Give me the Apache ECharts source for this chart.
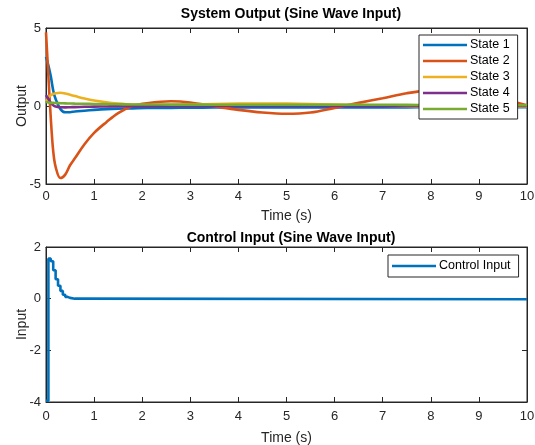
<!DOCTYPE html>
<html>
<head>
<meta charset="utf-8">
<script src="https://cdn.jsdelivr.net/npm/echarts@6/dist/echarts.min.js"></script>
<style>
  html, body { margin: 0; padding: 0; background: #fff; }
  #main { width: 535px; height: 445px; }
</style>
</head>
<body>
<div id="main"></div>
<script>
// time samples for the state outputs (s)
var tOut = [0, 0.05, 0.1, 0.15, 0.2, 0.3, 0.4, 0.5, 0.6, 0.8, 1.0, 1.25, 1.5, 1.8, 2.1, 2.6, 3.0, 3.5,
            4.0, 4.5, 5.0, 5.5, 6.0, 6.5, 7.0, 7.5, 8.0, 8.5, 9.0, 9.5, 10];
var state1 = [3.15, 2.6, 1.9, 1.0, 0.45, -0.2, -0.4, -0.4, -0.35, -0.3, -0.25, -0.2, -0.17, -0.15, -0.13, -0.12, -0.11, -0.1,
              -0.1, -0.1, -0.1, -0.1, -0.1, -0.1, -0.1, -0.09, -0.08, -0.08, -0.08, -0.08, -0.08];
var state2 = [4.72, 1.9, -0.8, -2.9, -3.9, -4.62, -4.4, -3.8, -3.35, -2.45, -1.72, -1.05, -0.45, 0.0, 0.18, 0.3, 0.22, -0.02,
              -0.25, -0.42, -0.5, -0.42, -0.12, 0.2, 0.5, 0.82, 1.02, 1.05, 0.85, 0.45, 0.05];
var state3 = [0.3, 0.55, 0.7, 0.77, 0.82, 0.85, 0.8, 0.72, 0.64, 0.48, 0.35, 0.24, 0.16, 0.09, 0.06, 0.06, 0.1, 0.13,
              0.15, 0.16, 0.15, 0.13, 0.1, 0.06, 0.02, -0.02, -0.05, -0.07, -0.07, -0.05, -0.03];
var state4 = [0.7, 0.45, 0.2, 0.05, -0.03, -0.08, -0.09, -0.08, -0.07, -0.05, -0.04, -0.03, -0.02, -0.02, -0.01, 0.0, 0.0, 0.01,
              0.02, 0.02, 0.02, 0.02, 0.01, 0.01, 0.0, 0.0, 0.0, 0.0, 0.0, 0.0, 0.0];
var state5 = [0.25, 0.22, 0.2, 0.2, 0.19, 0.18, 0.17, 0.16, 0.15, 0.14, 0.13, 0.12, 0.11, 0.1, 0.1, 0.09, 0.09, 0.08,
              0.08, 0.08, 0.08, 0.08, 0.08, 0.08, 0.08, 0.07, 0.06, 0.06, 0.05, 0.05, 0.05];
var stateNames = ['State 1', 'State 2', 'State 3', 'State 4', 'State 5'];

// control input, zero-order hold samples
var tCtrl = [0, 0.05, 0.1, 0.15, 0.2, 0.25, 0.3, 0.35, 0.4, 0.45, 0.5, 0.6, 10];
var uCtrl = [-3.95, 1.55, 1.45, 1.1, 0.75, 0.5, 0.3, 0.15, 0.07, 0.03, 0.0, -0.02, -0.02];

var xTicks = [0, 1, 2, 3, 4, 5, 6, 7, 8, 9, 10];

var colors = ['#0072BD', '#D95319', '#EDB120', '#7E2F8E', '#77AC30'];
var ink = '#262626';
var font = 'Liberation Sans, Arial, Helvetica, sans-serif';

function pairs(t, v) {
  return t.map(function (x, i) { return [x, v[i]]; });
}

function xAx(grid, pos, nameGap, margin) {
  return {
    type: 'value', gridIndex: grid, position: pos,
    min: xTicks[0], max: xTicks[xTicks.length - 1], interval: 1,
    name: pos === 'bottom' ? 'Time (s)' : '', nameLocation: 'middle', nameGap: nameGap, nameMoveOverlap: false,
    nameTextStyle: { color: ink, fontSize: 14, fontFamily: font },
    axisLine: { show: true, onZero: false, lineStyle: { color: ink, width: 1 } },
    axisTick: { show: true, inside: true, length: 5, lineStyle: { color: ink } },
    axisLabel: { show: pos === 'bottom', color: ink, fontSize: 13, fontFamily: font, margin: margin },
    splitLine: { show: false }
  };
}

function yAx(grid, pos, min, max, step, name) {
  return {
    type: 'value', gridIndex: grid, position: pos,
    min: min, max: max, interval: step,
    name: name, nameLocation: 'middle', nameGap: 17, nameRotate: 90, nameMoveOverlap: false,
    nameTextStyle: { color: ink, fontSize: 14, fontFamily: font },
    axisLine: { show: true, onZero: false, lineStyle: { color: ink, width: 1 } },
    axisTick: { show: true, inside: true, length: 5, lineStyle: { color: ink } },
    axisLabel: { show: pos === 'left', color: ink, fontSize: 13, fontFamily: font, margin: 5 },
    splitLine: { show: false }
  };
}

var states = [state1, state2, state3, state4, state5];
var series = states.map(function (s, i) {
  return {
    name: stateNames[i], type: 'line', xAxisIndex: 0, yAxisIndex: 0,
    data: pairs(tOut, s), smooth: 0.35, symbol: 'none',
    lineStyle: { width: 2.6, color: colors[i] }, itemStyle: { color: colors[i] }
  };
});
series.push({
  name: 'Control Input', type: 'line', xAxisIndex: 2, yAxisIndex: 2,
  data: pairs(tCtrl, uCtrl), step: 'end', symbol: 'none',
  lineStyle: { width: 2.6, color: colors[0] }, itemStyle: { color: colors[0] }
});

var legendBase = {
  orient: 'vertical', padding: [3, 8, 3, 4],
  icon: 'rect', itemWidth: 44, itemHeight: 2.6, itemGap: 2,
  backgroundColor: '#fff', borderColor: ink, borderWidth: 1, borderRadius: 0,
  textStyle: { color: '#000', fontSize: 12.5, fontFamily: font, padding: [0, 0, 0, -2], lineHeight: 14 }
};

var chart = echarts.init(document.getElementById('main'), null, { renderer: 'canvas' });
var option = {
  animation: false,
  backgroundColor: '#ffffff',
  title: [
    { text: 'System Output (Sine Wave Input)', left: 286, top: 2, textAlign: 'center',
      textStyle: { fontSize: 14, fontWeight: 'bold', color: '#000', fontFamily: font } },
    { text: 'Control Input (Sine Wave Input)', left: 286, top: 226, textAlign: 'center',
      textStyle: { fontSize: 14, fontWeight: 'bold', color: '#000', fontFamily: font } }
  ],
  legend: [
    Object.assign({}, legendBase, { data: stateNames, left: 419, top: 35 }),
    Object.assign({}, legendBase, { data: ['Control Input'], left: 388, top: 255, padding: [4, 8, 4, 4] })
  ],
  grid: [
    { left: 46, right: 8, top: 28, height: 156, show: true, borderColor: ink, borderWidth: 1, outerBoundsMode: 'none' },
    { left: 46, right: 8, top: 247, height: 155, show: true, borderColor: ink, borderWidth: 1, outerBoundsMode: 'none' }
  ],
  xAxis: [xAx(0, 'bottom', 25, 6), xAx(0, 'top', 0, 0), xAx(1, 'bottom', 29, 8), xAx(1, 'top', 0, 0)],
  yAxis: [yAx(0, 'left', -5, 5, 5, 'Output'), yAx(0, 'right', -5, 5, 5, ''),
          yAx(1, 'left', -4, 2, 2, 'Input'), yAx(1, 'right', -4, 2, 2, '')],
  series: series
};
chart.setOption(option);
</script>
</body>
</html>
